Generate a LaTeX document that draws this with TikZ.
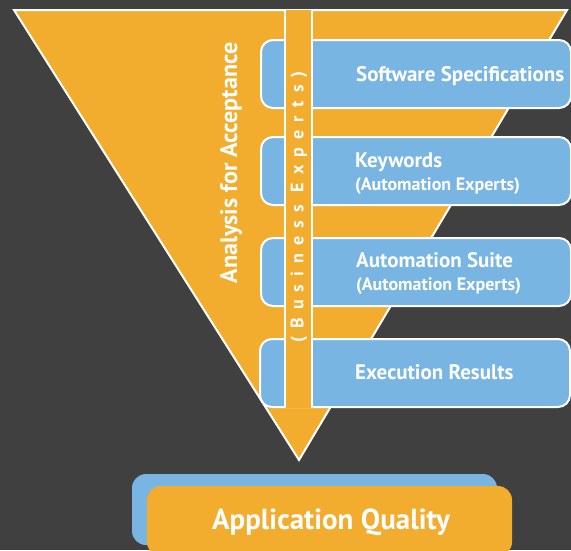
\documentclass[tikz,border=0pt]{standalone}
\usepackage{fontspec}
\setmainfont{PT Sans}
\usetikzlibrary{positioning}
\definecolor{funnel}{HTML}{F2AC2E}
\definecolor{stage}{HTML}{79B5E2}
\definecolor{backdrop}{HTML}{404040}

\tikzset{
  stagebox/.style={fill=stage,draw=white,line width=2pt,rounded corners=12pt,
    minimum width=310pt,minimum height=68pt,inner sep=0pt},
  stagetext/.style={anchor=base west,text=white,inner sep=0pt,
    font=\bfseries\fontsize{21}{24}\selectfont},
  stagesub/.style={anchor=base west,text=white,inner sep=0pt,
    font=\bfseries\fontsize{18}{20}\selectfont},
}

\begin{document}
\begin{tikzpicture}[x=1pt,y=-1pt]
  \fill [backdrop] (0,0) rectangle (571,550);
  \useasboundingbox (0,0) rectangle (571,550);

  % funnel
  \draw [fill=funnel,draw=white,line width=2pt,line join=miter] (14,10) -- (567,10) -- (299,460) -- cycle;

  % stages
  \node [stagebox] (spec)  at (416,74)  {};
  \node [stagebox] (keys)  at (416,171) {};
  \node [stagebox] (suite) at (416,272) {};
  \node [stagebox] (exec)  at (415,373) {};

  % business experts bar
  \fill [funnel] (285,10) rectangle (312,408);
  \draw [white,line width=2pt] (285,10) -- (285,408);
  \draw [white,line width=2pt] (312,10) -- (312,408);
  \node [text=white,rotate=90,font=\bfseries\fontsize{18}{20}\selectfont\addfontfeature{LetterSpace=45}]
    (business) at (299,207) {(Business Experts)};

  \node [text=white,rotate=90,font=\bfseries\fontsize{24}{28}\selectfont]
    (analysis) at (231,163) {Analysis for Acceptance};

  \node [stagetext] (spectext)  at (356,81)  {Software Specifications};
  \node [stagetext] (keystext)  at (355,167) {Keywords};
  \node [stagesub]  (keyssub)   at (355,190) {(Automation Experts)};
  \node [stagetext] (suitetext) at (356,267) {Automation Suite};
  \node [stagesub]  (suitesub)  at (356,290) {(Automation Experts)};
  \node [stagetext] (exectext)  at (355,379) {Execution Results};

  % result
  \node [fill=stage,rounded corners=14pt,minimum width=365pt,minimum height=71pt]
    (qualityshadow) at (314.5,509.5) {};
  \node [fill=funnel,rounded corners=14pt,minimum width=365pt,minimum height=70pt] (quality) at (329.5,521) {};
  \node [anchor=base,text=white,font=\bfseries\fontsize{29}{34}\selectfont] (qualitytext) at (331,529) {Application Quality};
\end{tikzpicture}
\end{document}
